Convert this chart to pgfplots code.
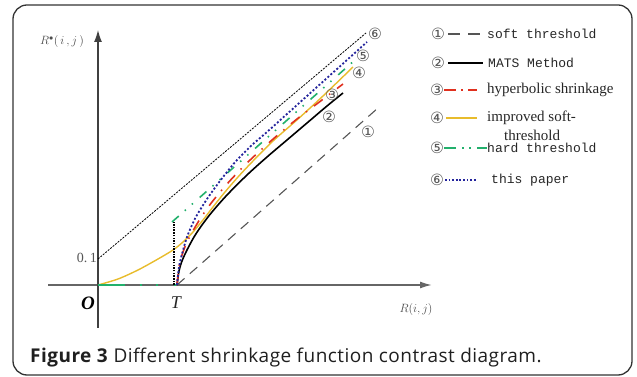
\documentclass[border=0pt]{standalone}
\usepackage{pgfplots}
\pgfplotsset{compat=1.18}
\usepackage{fontspec}
\setmainfont{Liberation Serif}
\setmonofont{Liberation Mono}
\newfontfamily\capfont[LetterSpace=2.5]{Open Sans}
\newfontfamily\symfont{DejaVu Sans}
\usetikzlibrary{arrows.meta}
\definecolor{cyel}{HTML}{E8BC2C}
\definecolor{cred}{HTML}{E0301E}
\definecolor{cgreen}{HTML}{22B06C}
\definecolor{cblue}{HTML}{24249C}
\definecolor{cgray}{HTML}{555555}
\begin{document}
\begin{tikzpicture}
\begin{axis}[x=1pt,y=1pt,xmin=-98,xmax=539,ymin=-92,ymax=285,
  hide axis, clip=false, anchor=south west, at={(0,0)}]
% bounding area and frame
\path (axis cs:-98,-92) rectangle (axis cs:539,285);
\draw[line width=1.3pt, black!80, rounded corners=14pt] (axis cs:-85,-90) rectangle (axis cs:534,280);
% axes
\draw[cgray!90, line width=1.6pt, -{Latex[length=12pt,width=7pt]}] (axis cs:-50,0) -- (axis cs:334,0);
\draw[black!75, line width=1.2pt, -{Latex[length=12pt,width=8pt]}] (axis cs:0,-43) -- (axis cs:0,255);
% soft threshold
\addplot[cgray, line width=1.1pt, dash pattern=on 10pt off 7pt] coordinates {(79,0) (280,177)};
% upper asymptote
\addplot[black, line width=0.8pt, dash pattern=on 2pt off 1.2pt] coordinates {(0,26) (268,252)};
% improved soft threshold
\addplot[cyel, line width=1.4pt, smooth] coordinates {(0,0)(20,6)(40,15)(60,26)(75,35)(85,43)(95,53)(105,65)(115,78)(127,93)(140,108)(155,124)(175,144)(200,166)(225,189)(255,218)};
% MATS
\addplot[black, line width=1.6pt, smooth] coordinates {(79,0)(81,14)(84,24)(89,35)(96,48)(104,60)(114,73)(129,90)(149,110)(169,128)(189,145)(209,162)(229,179)(245,192)};
% hyperbolic
\addplot[cred, line width=1.6pt, smooth, dash pattern=on 11pt off 8pt on 1.5pt off 8.5pt] coordinates {(79,0)(81,18)(84,30)(89,43)(96,56)(104,69)(114,83)(129,101)(149,122)(174,145)(199,166)(224,185)(245,201)};
% hard threshold
\addplot[cgreen, line width=1.8pt, dash pattern=on 27pt off 15pt on 2pt off 14pt on 2pt off 16pt] coordinates {(0,0)(78,0)};
\addplot[cgreen, line width=1.6pt, dash pattern=on 9pt off 8pt on 1.5pt off 8pt on 1.5pt off 9pt] coordinates {(74,63)(257,225)};
\addplot[black, line width=1.5pt, dash pattern=on 1.5pt off 1.2pt] coordinates {(76,0)(76,63)};
% this paper
\addplot[cblue, line width=1.8pt, smooth, dash pattern=on 2pt off 2pt] coordinates {(79,0)(81,18)(84,31)(89,48)(94,60)(99,70)(109,86)(119,100)(129,113)(139,125)(154,140)(169,153)(189,171)(209,189)(229,207)(249,225)(269,243)};
% curve labels
\begin{scope}[every node/.style={font=\symfont\fontsize{15.5}{15.5}\selectfont, text=cgray, inner sep=0}]
\node at (axis cs:277,251) {⑥};
\node at (axis cs:265,229) {⑤};
\node at (axis cs:261,212) {④};
\node at (axis cs:234,190) {③};
\node at (axis cs:231,168) {②};
\node at (axis cs:270,153) {①};
\node at (axis cs:340,251) {①};
\node at (axis cs:340,222) {②};
\node at (axis cs:339,195) {③};
\node at (axis cs:339,167) {④};
\node at (axis cs:339,137) {⑤};
\node at (axis cs:339,105) {⑥};
\end{scope}
% legend samples
\draw[cgray, line width=1.3pt, dash pattern=on 12pt off 8pt] (axis cs:350,251) -- (axis cs:382,251);
\draw[black, line width=1.5pt] (axis cs:350,222) -- (axis cs:385,222);
\draw[cred, line width=1.5pt, dash pattern=on 12pt off 5pt on 2pt off 5pt] (axis cs:346,195) -- (axis cs:379,195);
\draw[cyel, line width=1.5pt] (axis cs:348,167) -- (axis cs:379,167);
\draw[cgreen, line width=1.5pt, dash pattern=on 12pt off 6pt on 2pt off 5pt on 2pt off 6pt] (axis cs:346,137) -- (axis cs:389,137);
\draw[cblue, line width=1.5pt, dash pattern=on 1.8pt off 1.8pt] (axis cs:347,105) -- (axis cs:379,105);
% legend text
\begin{scope}[every node/.style={anchor=west, inner sep=0, text=black!85}]
\node[font=\ttfamily\fontsize{13}{15}\selectfont] at (axis cs:389,251) {soft threshold};
\node[font=\ttfamily\fontsize{13}{15}\selectfont] at (axis cs:390,222) {MATS Method};
\node[font=\fontsize{15}{17}\selectfont] at (axis cs:389,195) {hyperbolic shrinkage};
\node[font=\fontsize{15}{17}\selectfont] at (axis cs:389,167) {improved soft-};
\node[font=\fontsize{15}{17}\selectfont] at (axis cs:406,150) {threshold};
\node[font=\ttfamily\fontsize{13}{15}\selectfont] at (axis cs:389,137) {hard threshold};
\node[font=\ttfamily\fontsize{13}{15}\selectfont] at (axis cs:393,105) {this paper};
\end{scope}
% axis texts
\node[anchor=east, inner sep=0, font=\fontsize{14}{16}\selectfont, text=cgray] at (axis cs:-1,27) {0.\,1};
\node[font=\bfseries\itshape\fontsize{19}{20}\selectfont] at (axis cs:-10,-18) {O};
\node[font=\itshape\fontsize{18}{20}\selectfont, text=black!85] at (axis cs:78,-18) {T};
\node[font=\fontsize{12}{14}\selectfont, text=black!70] at (axis cs:-36,243) {$R^{\bullet}(\,i\,,j\,)$};
\node[font=\fontsize{12}{14}\selectfont, text=black!70] at (axis cs:318,-25) {$R(i,j)$};
% caption
\node[anchor=base west, inner sep=0, font=\capfont\fontsize{19}{21}\selectfont, text=black!88] at (axis cs:-68,-78) {\textbf{Figure 3} Different shrinkage function contrast diagram.};
\end{axis}
\end{tikzpicture}
\end{document}
